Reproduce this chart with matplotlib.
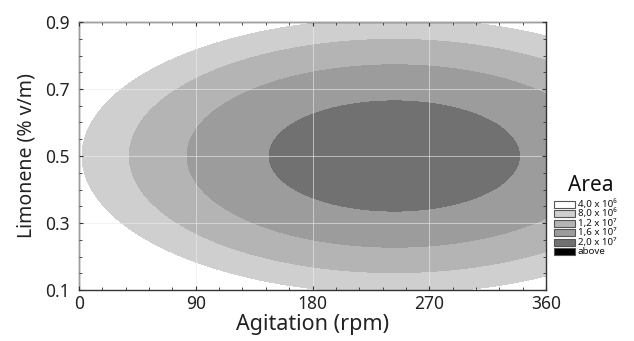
import numpy as np
import matplotlib
matplotlib.use('Agg')
import matplotlib.pyplot as plt
from matplotlib.patches import Rectangle
from matplotlib.ticker import MultipleLocator

plt.rcParams['font.family'] = ['Noto Sans', 'DejaVu Sans']

# fitted quadratic response surface
peak_area = 1.83e7        # area at the optimum
opt_rpm = 243.0           # agitation at the optimum
opt_limonene = 0.5        # limonene at the optimum
curv_rpm = 247.0          # area lost per rpm^2
curv_limonene = 8.5e7     # area lost per (% v/m)^2

levels = [0, 4.0e6, 8.0e6, 1.2e7, 1.6e7, 2.0e7, 5.0e7]
level_labels = ['4,0 x 10\u2076', '8,0 x 10\u2076', '1,2 x 10\u2077',
                '1,6 x 10\u2077', '2,0 x 10\u2077', 'above']
fill_colors = ['#ffffff', '#cfcfcf', '#b4b4b4', '#9c9c9c', '#717171', '#000000']

x_ticks = [0, 90, 180, 270, 360]
y_ticks = [0.1, 0.3, 0.5, 0.7, 0.9]

rpm = np.linspace(0, 360, 181)
lim = np.linspace(0.1, 0.9, 161)
X, Y = np.meshgrid(rpm, lim)
Z = peak_area - curv_rpm * (X - opt_rpm) ** 2 - curv_limonene * (Y - opt_limonene) ** 2
Z = np.clip(Z, 1, None)

W, H = 634, 341
fig = plt.figure(figsize=(W / 100, H / 100), dpi=100)
ax = fig.add_axes([79 / W, 1 - 290 / H, (546 - 79) / W, (290 - 22) / H])
ax.contourf(X, Y, Z, levels=levels, colors=fill_colors)

ax.set_xlim(0, 360)
ax.set_ylim(0.1, 0.9)
ax.set_xticks(x_ticks)
ax.set_yticks(y_ticks)
ax.set_xticklabels([str(t) for t in x_ticks])
ax.set_yticklabels(['%.1f' % t for t in y_ticks])
ax.xaxis.set_minor_locator(MultipleLocator(18))
ax.yaxis.set_minor_locator(MultipleLocator(0.05))
ax.tick_params(which='both', direction='in', top=True, right=True, colors='#333333',
               labelcolor='#222222', labelsize=12.5)
ax.tick_params(axis='y', which='major', pad=7)
ax.tick_params(which='major', length=3, width=0.8)
ax.tick_params(which='minor', length=2, width=0.6)
ax.grid(True, which='major', color='#ececec', lw=0.6, alpha=0.7)
ax.set_axisbelow(False)
for s in ax.spines.values():
    s.set_color('#333333')
    s.set_linewidth(1.0)

ax.set_xlabel('Agitation (rpm)', fontsize=15.5, color='#222222', labelpad=1)
ax.set_ylabel('Limonene (% v/m)', fontsize=14, color='#222222', labelpad=6)

# legend drawn by hand, Statistica style
fig.text(568 / W, 1 - 191 / H, 'Area', fontsize=15, color='#111111', va='baseline')
row_y = 204
for c, lab in zip(fill_colors, level_labels):
    fig.patches.append(Rectangle((554 / W, 1 - (row_y + 3.5) / H), 21 / W, 7 / H,
                                 facecolor=c, edgecolor='#555555', lw=0.8,
                                 transform=fig.transFigure, figure=fig))
    fig.text(578 / W, 1 - row_y / H, lab, fontsize=7, color='#111111',
             va='center', ha='left', fontweight='semibold')
    row_y += 9.6

fig.savefig('out.png', dpi=100)
